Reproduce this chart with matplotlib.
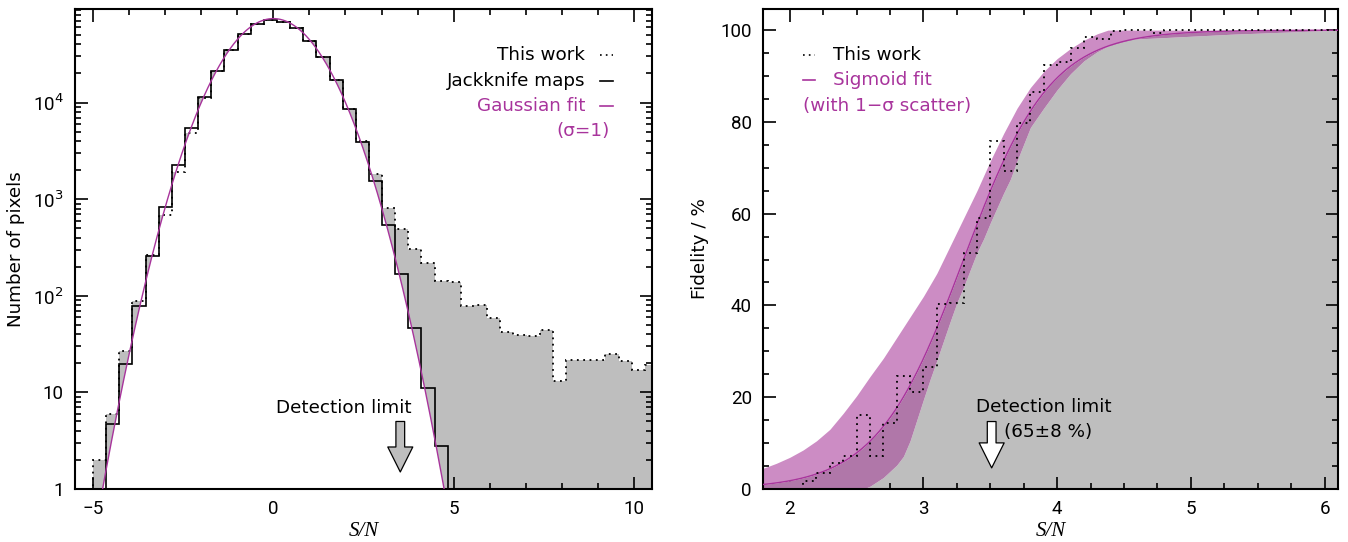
import numpy as np
import matplotlib
matplotlib.use("Agg")
import matplotlib.pyplot as plt
from matplotlib.ticker import MultipleLocator, LogLocator, FixedLocator, NullFormatter

plt.rcParams['font.family'] = ['DejaVu Sans']

# ---------------- data: left panel (pixel S/N histograms) ----------------
hist_start = -5.0
hist_width = 0.3643
this_work_counts = [2.0, 6.0, 27, 89, 266, 690, 1890, 4820, 11100, 21100,
                    34800, 50800, 65000, 71500, 68700, 58700, 43600, 29400, 17200, 8650,
                    3980, 1830, 808, 490, 304, 221, 143, 140, 79, 80,
                    59, 42, 39.5, 38.5, 44.5, 13, 21.8, 21.8, 21.8, 24.9,
                    20.9, 16.9, 19]
jackknife_counts = [0, 4.7, 19.7, 79, 259, 834, 2285, 5470, 11380, 21400,
                    35100, 51100, 65200, 71800, 68900, 58900, 43800, 29500, 17200, 8600,
                    3950, 1550, 539, 168, 46, 11.1, 2.76, 0, 0, 0,
                    0, 0, 0, 0, 0, 0, 0, 0, 0, 0,
                    0, 0, 0]
gauss_amp = 74000.0
gauss_mu = 0.0
gauss_sigma = 1.0
left_xticks = [-5, 0, 5, 10]
left_xticklabels = ['\u22125', '0', '5', '10']
left_yticks = [1, 10, 100, 1000, 10000]
left_yticklabels = ['1', '10', '10$^2$', '10$^3$', '10$^4$']

# ---------------- data: right panel (fidelity) ----------------
fid_start = 1.8
fid_width = 0.1
fidelity = [0, 0, 0, 1.7, 3.5, 5.7, 7.1, 16.2, 7.3, 14.4,
            24.7, 21.1, 26.6, 40.4, 40.6, 51.5, 59.1, 75.8, 69.3, 79.7,
            86.5, 92.4, 93.1, 96.2, 98.5, 98.0, 99.8, 100, 100, 99.3,
            100, 100, 100, 100, 100, 100, 100, 100, 100, 100,
            100, 100, 100]
sig_x0 = 3.30
sig_scale = 0.325
band_up_x = [1.8, 1.9, 2.0, 2.1, 2.2, 2.3, 2.4, 2.5, 2.6, 2.7, 2.8, 2.9, 3.0, 3.1,
             3.2, 3.3, 3.4, 3.5, 3.6, 3.7, 3.8, 3.9, 4.0, 4.1, 4.2, 4.3, 4.38, 6.1]
band_up = [4.5, 5.6, 6.9, 8.5, 10.5, 13.0, 16.5, 20.3, 24.5, 28.5, 33, 37.5, 42, 47,
           53, 59, 65, 71.5, 77.5, 83, 87.5, 91, 93.8, 96, 97.8, 99.2, 100, 100]
band_lo_x = [2.55, 2.6, 2.7, 2.8, 2.85, 2.9, 3.0, 3.05, 3.1, 3.2, 3.25, 3.3, 3.4, 3.45,
             3.5, 3.6, 3.65, 3.7, 3.8, 3.9, 4.0, 4.1, 4.2, 4.3, 4.4, 4.5, 4.55, 5.3, 6.1]
band_lo = [0, 0.6, 2.5, 5.2, 7.1, 10.5, 19.5, 23.9, 28, 36.5, 40.6, 44, 51.5, 54.5,
           58, 64.5, 67.5, 71.5, 78.8, 83, 87, 90.5, 93.3, 95.3, 96.8, 97.8, 98, 99.1, 100]
right_xticks = [2, 3, 4, 5, 6]
right_yticks = [0, 20, 40, 60, 80, 100]

# ---------------- style ----------------
GRAY = '#bebebe'
MAG = '#a8349c'
LIGHTP = '#cc8cc4'
DARKP = '#b077a9'
FS = 13.2
TICKFONT = ['Roboto', 'DejaVu Sans']

fig = plt.figure(figsize=(13.48, 5.42), dpi=100)
axL = fig.add_axes([75 / 1348, 53 / 542, 577 / 1348, 480 / 542])
axR = fig.add_axes([763 / 1348, 53 / 542, 575 / 1348, 480 / 542])


def style_axes(ax):
    for s in ax.spines.values():
        s.set_linewidth(1.5)
    ax.tick_params(which='both', direction='in', top=True, right=True, width=1.2,
                   labelsize=13.5, pad=8)
    ax.tick_params(which='major', length=9)
    ax.tick_params(which='minor', length=4.5)
    for lab in ax.get_xticklabels() + ax.get_yticklabels():
        lab.set_family(TICKFONT)


# ---------- left ----------
edges = hist_start + hist_width * np.arange(len(this_work_counts) + 1)
tw = np.array(this_work_counts, dtype=float)
jk = np.array(jackknife_counts, dtype=float)
axL.set_yscale('log', nonpositive='clip')
axL.stairs(tw, edges, baseline=1e-3, fill=True, color=GRAY, lw=0, zorder=1)
xg = np.linspace(-6, 11, 2000)
yg = gauss_amp * np.exp(-0.5 * ((xg - gauss_mu) / gauss_sigma) ** 2)
axL.fill_between(xg, 1e-3, yg, color='white', lw=0, zorder=2)
axL.stairs(np.where(jk > 0, jk, 1e-3), edges, baseline=1e-3, color='black', lw=1.2, zorder=4)
axL.stairs(tw, edges, baseline=1e-3, color='black', lw=1.3, ls=(0, (1, 2.5)), zorder=4)
axL.plot(xg, yg, color=MAG, lw=1.0, zorder=5)
axL.set_xlim(-5.5, 10.5)
axL.set_ylim(1, 9.3e4)
axL.xaxis.set_major_locator(FixedLocator(left_xticks))
axL.set_xticklabels(left_xticklabels)
axL.xaxis.set_minor_locator(MultipleLocator(1))
axL.yaxis.set_major_locator(FixedLocator(left_yticks))
axL.set_yticklabels(left_yticklabels)
axL.yaxis.set_minor_locator(LogLocator(base=10, subs=np.arange(2, 10)))
axL.yaxis.set_minor_formatter(NullFormatter())
style_axes(axL)
axL.set_xlabel('S/N', fontsize=15, family='Liberation Serif', style='italic', labelpad=3)
axL.set_ylabel('Number of pixels', fontsize=FS, labelpad=6)

# legend (left)
rows = [(0.905, 'This work', 'black', (0, (1, 2.5))),
        (0.851, 'Jackknife maps', 'black', '-'),
        (0.797, 'Gaussian fit', MAG, '-')]
for yy, txt, col, ls in rows:
    axL.text(0.884, yy, txt, transform=axL.transAxes, ha='right', va='center',
             fontsize=FS, color=col)
    axL.plot([0.91, 0.932], [yy, yy], transform=axL.transAxes, color=col, ls=ls,
             lw=1.2, zorder=6)
axL.text(0.927, 0.745, '(\u03c3=1)', transform=axL.transAxes, ha='right', va='center',
         fontsize=FS, color=MAG)

axL.text(1.96, 6.9, 'Detection limit', ha='center', va='center', fontsize=FS)
axL.annotate('', xy=(3.52, 1.5), xytext=(3.52, 5.0),
             arrowprops=dict(arrowstyle='simple,head_length=1.0,head_width=1.0,tail_width=0.35',
                             fc=GRAY, ec='black', lw=0.9, mutation_scale=18,
                             shrinkA=0, shrinkB=0), zorder=7)

# ---------- right ----------
xs = np.linspace(1.7, 6.2, 1000)
fit = 100.0 / (1.0 + np.exp(-(xs - sig_x0) / sig_scale))
up = np.interp(xs, band_up_x, band_up)
lo = np.interp(xs, band_lo_x, band_lo, left=0)
axR.fill_between(xs, 0, lo, color=GRAY, lw=0, zorder=1)
axR.fill_between(xs, lo, fit, color=DARKP, lw=0, zorder=2)
axR.fill_between(xs, fit, up, color=LIGHTP, lw=0, zorder=2)
axR.plot(xs, fit, color=MAG, lw=1.0, zorder=4)
fedges = fid_start + fid_width * np.arange(len(fidelity) + 1)
axR.stairs(fidelity, fedges, baseline=None, color='black', lw=1.3, ls=(0, (1, 2.5)), zorder=5)
axR.set_xlim(1.8, 6.1)
axR.set_ylim(0, 104.6)
axR.xaxis.set_major_locator(FixedLocator(right_xticks))
axR.xaxis.set_minor_locator(MultipleLocator(0.25))
axR.yaxis.set_major_locator(FixedLocator(right_yticks))
axR.yaxis.set_minor_locator(MultipleLocator(5))
style_axes(axR)
axR.set_xlabel('S/N', fontsize=15, family='Liberation Serif', style='italic', labelpad=3)
axR.set_ylabel('Fidelity / %', fontsize=FS, labelpad=8)

axR.plot([0.0696, 0.09], [0.905, 0.905], transform=axR.transAxes, color='black',
         ls=(0, (1, 2.5)), lw=1.2, zorder=6)
axR.text(0.122, 0.905, 'This work', transform=axR.transAxes, ha='left', va='center',
         fontsize=FS, color='black')
axR.plot([0.0696, 0.09], [0.853, 0.853], transform=axR.transAxes, color=MAG, lw=1.2, zorder=6)
axR.text(0.122, 0.853, 'Sigmoid fit', transform=axR.transAxes, ha='left', va='center',
         fontsize=FS, color=MAG)
axR.text(0.0696, 0.797, '(with 1\u2212\u03c3 scatter)', transform=axR.transAxes, ha='left',
         va='center', fontsize=FS, color=MAG)

axR.text(3.9, 17.8, 'Detection limit', ha='center', va='center', fontsize=FS)
axR.text(3.6, 12.5, '(65\u00b18 %)', ha='left', va='center', fontsize=FS)
axR.annotate('', xy=(3.51, 4.6), xytext=(3.51, 14.7),
             arrowprops=dict(arrowstyle='simple,head_length=1.0,head_width=1.0,tail_width=0.35',
                             fc='white', ec='black', lw=0.9, mutation_scale=18,
                             shrinkA=0, shrinkB=0), zorder=7)

fig.savefig('out.png', dpi=100)
